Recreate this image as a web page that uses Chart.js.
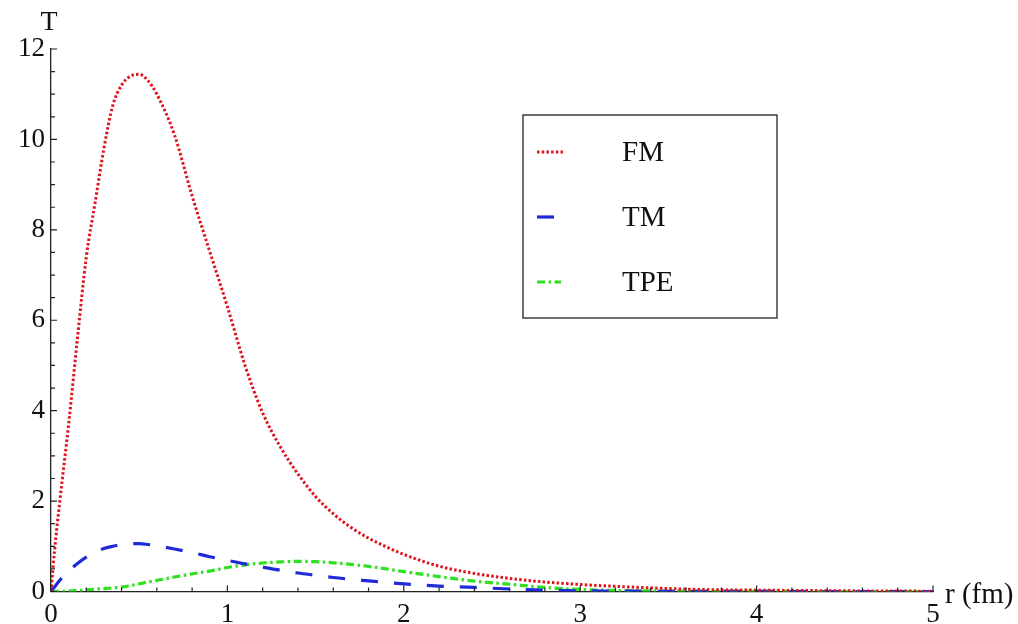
<!DOCTYPE html>
<html>
<head>
<meta charset="utf-8">
<script src="https://cdn.jsdelivr.net/npm/chart.js@4.4.0/dist/chart.umd.min.js"></script>
<style>
  html, body { margin: 0; padding: 0; background: #fff; }
  #wrap { width: 1018px; height: 624px; }
</style>
</head>
<body>
<div id="wrap"><canvas id="grafico" width="1018" height="624"></canvas></div>
<script>
// r (fm)
var raios = [0, 0.02, 0.05, 0.1, 0.15, 0.2, 0.25, 0.3, 0.35, 0.4, 0.45, 0.5, 0.55, 0.6, 0.7, 0.8, 0.9, 1.0,
    1.1, 1.2, 1.3, 1.4, 1.5, 1.6, 1.7, 1.8, 1.9, 2.0, 2.2, 2.4, 2.6, 2.8, 3.0, 3.25, 3.5, 3.75, 4.0, 4.5, 5.0];

var valoresFM = [0, 0.9, 2.0, 3.7, 5.6, 7.4, 8.6, 9.8, 10.75, 11.2, 11.4, 11.44, 11.3, 11.0, 10.1, 8.75, 7.52, 6.3,
    5.0, 3.95, 3.2, 2.6, 2.1, 1.72, 1.42, 1.18, 0.99, 0.82, 0.56, 0.4, 0.29, 0.21, 0.155, 0.105, 0.065, 0.04, 0.03, 0.015, 0.007];

var valoresTM = [0, 0.1, 0.25, 0.45, 0.62, 0.76, 0.87, 0.95, 1.0, 1.04, 1.06, 1.06, 1.04, 1.01, 0.94, 0.86, 0.77, 0.69,
    0.61, 0.54, 0.47, 0.41, 0.36, 0.31, 0.27, 0.235, 0.2, 0.17, 0.12, 0.09, 0.055, 0.03, 0.015, 0.008, 0.004, 0.002, 0.001, 0, 0];

var valoresTPE = [0, 0, 0.003, 0.01, 0.02, 0.035, 0.05, 0.065, 0.08, 0.095, 0.13, 0.17, 0.21, 0.245, 0.32, 0.39, 0.45, 0.53,
    0.59, 0.63, 0.655, 0.665, 0.66, 0.635, 0.6, 0.555, 0.5, 0.44, 0.33, 0.23, 0.16, 0.09, 0.045, 0.02, 0.008, 0.004, 0.002, 0, 0];

var rotulos = ['FM', 'TM', 'TPE'];
var ticksX = [0, 1, 2, 3, 4, 5];
var ticksY = [0, 2, 4, 6, 8, 10, 12];

var fonte = '"Liberation Serif", "Times New Roman", serif';

function pontos(valores) {
    return raios.map(function (r, i) { return {x: r, y: valores[i]}; });
}

//desenha ticks internos, rótulos dos eixos e a legenda com moldura
var extras = {
    id: 'extras',
    afterDraw: function (chart) {
        let ctx = chart.ctx;
        let sx = chart.scales.x;
        let sy = chart.scales.y;
        let x0 = sx.getPixelForValue(0);
        let y0 = sy.getPixelForValue(0);
        ctx.save();
        ctx.strokeStyle = '#222';
        ctx.lineWidth = 1.2;
        ctx.beginPath();
        for (let v = 0; v <= 5.0001; v += 0.2) {
            let px = sx.getPixelForValue(v);
            let major = Math.abs(v - Math.round(v)) < 0.001;
            ctx.moveTo(px, y0);
            ctx.lineTo(px, y0 - (major ? 6 : 4));
        }
        for (let v = 0; v <= 12.0001; v += 0.5) {
            let py = sy.getPixelForValue(v);
            let major = Math.abs(v / 2 - Math.round(v / 2)) < 0.001;
            ctx.moveTo(x0, py);
            ctx.lineTo(x0 + (major ? 6 : 4), py);
        }
        ctx.stroke();

        ctx.fillStyle = '#111';
        ctx.font = '28px ' + fonte;
        ctx.textAlign = 'center';
        ctx.textBaseline = 'alphabetic';
        ctx.fillText('T', x0 - 2, 30);
        ctx.font = '29px ' + fonte;
        ctx.textAlign = 'left';
        ctx.fillText('r (fm)', sx.getPixelForValue(5) + 12, 603);

        // legenda
        ctx.lineWidth = 1.3;
        ctx.strokeStyle = '#222';
        ctx.strokeRect(523, 115, 254, 203);
        let tamanhos = [28, 18, 24];
        chart.data.datasets.forEach(function (ds, i) {
            let ly = 152 + i * 65;
            ctx.save();
            ctx.strokeStyle = ds.borderColor;
            ctx.lineWidth = ds.borderWidth;
            ctx.setLineDash(ds.borderDash);
            ctx.beginPath();
            ctx.moveTo(537, ly);
            ctx.lineTo(537 + tamanhos[i], ly);
            ctx.stroke();
            ctx.restore();
            ctx.fillStyle = '#111';
            ctx.textBaseline = 'middle';
            ctx.fillText(ds.label, 622, ly + 1);
        });
        ctx.restore();
    }
};

var ctx = document.getElementById('grafico').getContext('2d');
var myChart = new Chart(ctx, {
    type: 'line',
    data: {
        datasets: [{
            label: rotulos[0],
            data: pontos(valoresFM),
            borderColor: '#e0141e',
            borderWidth: 3,
            borderDash: [2.5, 2.2],
            pointRadius: 0,
            cubicInterpolationMode: 'monotone'
        }, {
            label: rotulos[1],
            data: pontos(valoresTM),
            borderColor: '#1f2bd8',
            borderWidth: 3.2,
            borderDash: [17, 16],
            pointRadius: 0,
            cubicInterpolationMode: 'monotone'
        }, {
            label: rotulos[2],
            data: pontos(valoresTPE),
            borderColor: '#2ee01e',
            borderWidth: 3.2,
            borderDash: [8, 3.5, 2.5, 3.5],
            pointRadius: 0,
            cubicInterpolationMode: 'monotone'
        }]
    },
    options: {
        responsive: false,
        animation: false,
        layout: {padding: {top: 49, right: 85, left: 0, bottom: 0}},
        plugins: {
            legend: {display: false},
            tooltip: {enabled: false}
        },
        scales: {
            x: {
                type: 'linear',
                min: 0,
                max: 5,
                afterBuildTicks: function (scale) {
                    scale.ticks = ticksX.map(function (v) { return {value: v}; });
                },
                afterFit: function (scale) { scale.height = 32.5; },
                grid: {display: false, drawTicks: false},
                border: {display: true, color: '#222', width: 1.3},
                ticks: {color: '#111', font: {family: fonte, size: 27}, padding: 7, maxRotation: 0}
            },
            y: {
                type: 'linear',
                min: 0,
                max: 12,
                afterBuildTicks: function (scale) {
                    scale.ticks = ticksY.map(function (v) { return {value: v}; });
                },
                afterFit: function (scale) { scale.width = 51; },
                grid: {display: false, drawTicks: false},
                border: {display: true, color: '#222', width: 1.3},
                ticks: {color: '#111', font: {family: fonte, size: 27}, padding: 6}
            }
        }
    },
    plugins: [extras]
});
</script>
</body>
</html>
